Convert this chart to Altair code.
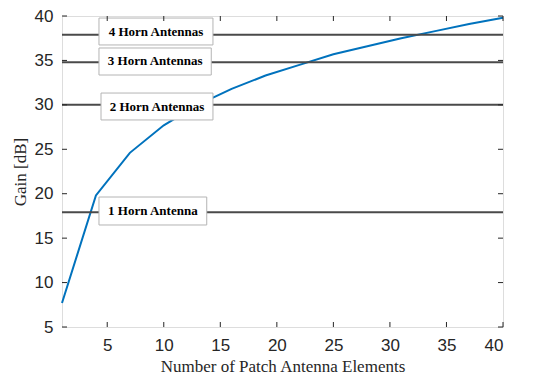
import altair as alt
import pandas as pd

# Curve data
elements = [1, 4, 7, 10, 13, 16, 19, 22, 25, 28, 31, 34, 37, 40]
gain = [7.7, 19.8, 24.6, 27.7, 30.0, 31.8, 33.3, 34.5, 35.7, 36.6, 37.5, 38.3, 39.1, 39.8]

# Horn antenna reference levels
horn_labels = ["1 Horn Antenna", "2 Horn Antennas", "3 Horn Antennas", "4 Horn Antennas"]
horn_gain = [17.9, 30.0, 34.8, 37.9]

# Annotation boxes (data coordinates)
box_x1 = [4.27, 4.45, 4.27, 4.27]
box_x2 = [13.8, 14.35, 14.2, 14.35]
box_y1 = [16.48, 28.3, 33.36, 36.74]
box_y2 = [19.63, 31.33, 36.4, 39.77]

x_ticks = [5, 10, 15, 20, 25, 30, 35, 40]
y_ticks = [5, 10, 15, 20, 25, 30, 35, 40]

W, H = 441, 311

curve = pd.DataFrame({"n": elements, "g": gain})
horns = pd.DataFrame({"label": horn_labels, "g": horn_gain})
boxes = pd.DataFrame({
    "label": horn_labels,
    "x1": box_x1, "x2": box_x2, "y1": box_y1, "y2": box_y2,
})
boxes["xc"] = (boxes["x1"] + boxes["x2"]) / 2
boxes["yc"] = (boxes["y1"] + boxes["y2"]) / 2
xt = pd.DataFrame({"v": x_ticks})
yt = pd.DataFrame({"v": y_ticks})

xscale = alt.Scale(domain=[1, 40], nice=False, zero=False)
yscale = alt.Scale(domain=[5, 40], nice=False, zero=False)

xaxis = alt.Axis(values=x_ticks, title="Number of Patch Antenna Elements", grid=False,
                 ticks=False, labelPadding=10, domain=False,
                 labelFont="Liberation Sans", labelFontSize=17, labelColor="#262626",
                 titleFont="Liberation Serif", titleFontSize=17, titleFontWeight="normal",
                 titleColor="#262626", titlePadding=5)
yaxis = alt.Axis(values=y_ticks, title="Gain [dB]", grid=False,
                 ticks=False, labelPadding=9, domain=False,
                 labelFont="Liberation Sans", labelFontSize=17, labelColor="#262626",
                 titleFont="Liberation Serif", titleFontSize=17, titleFontWeight="normal",
                 titleColor="#262626", titlePadding=5)

line = alt.Chart(curve).mark_line(color="#0072BD", strokeWidth=2).encode(
    x=alt.X("n:Q", scale=xscale, axis=xaxis),
    y=alt.Y("g:Q", scale=yscale, axis=yaxis),
)

hlines = alt.Chart(horns).mark_rule(color="#4a4a4a", strokeWidth=2).encode(
    y=alt.Y("g:Q", scale=yscale),
)

rects = alt.Chart(boxes).mark_rect(fill="white", stroke="#b4b4b4", strokeWidth=1).encode(
    x=alt.X("x1:Q", scale=xscale), x2="x2:Q",
    y=alt.Y("y1:Q", scale=yscale), y2="y2:Q",
)

texts = alt.Chart(boxes).mark_text(font="Liberation Serif", fontWeight="bold", fontSize=13,
                                   color="black", align="center", baseline="middle").encode(
    x=alt.X("xc:Q", scale=xscale),
    y=alt.Y("yc:Q", scale=yscale),
    text="label:N",
)

tick_len = 5
xt_bottom = alt.Chart(xt).mark_rule(color="#262626", strokeWidth=1).encode(
    x=alt.X("v:Q", scale=xscale), y=alt.value(H), y2=alt.value(H - tick_len))
xt_top = alt.Chart(xt).mark_rule(color="#262626", strokeWidth=1).encode(
    x=alt.X("v:Q", scale=xscale), y=alt.value(0), y2=alt.value(tick_len))
yt_left = alt.Chart(yt).mark_rule(color="#262626", strokeWidth=1).encode(
    y=alt.Y("v:Q", scale=yscale), x=alt.value(0), x2=alt.value(tick_len))
yt_right = alt.Chart(yt).mark_rule(color="#262626", strokeWidth=1).encode(
    y=alt.Y("v:Q", scale=yscale), x=alt.value(W), x2=alt.value(W - tick_len))

chart = alt.layer(line, hlines, rects, texts, xt_bottom, xt_top, yt_left, yt_right).properties(
    width=W, height=H,
    autosize=alt.AutoSizeParams(type="none"),
    padding={"left": 62, "top": 16, "right": 38, "bottom": 54},
).configure_view(stroke="#262626", strokeWidth=1.2).configure(background="white")

chart.save("out.html", embed_options={"renderer": "svg", "actions": False})
